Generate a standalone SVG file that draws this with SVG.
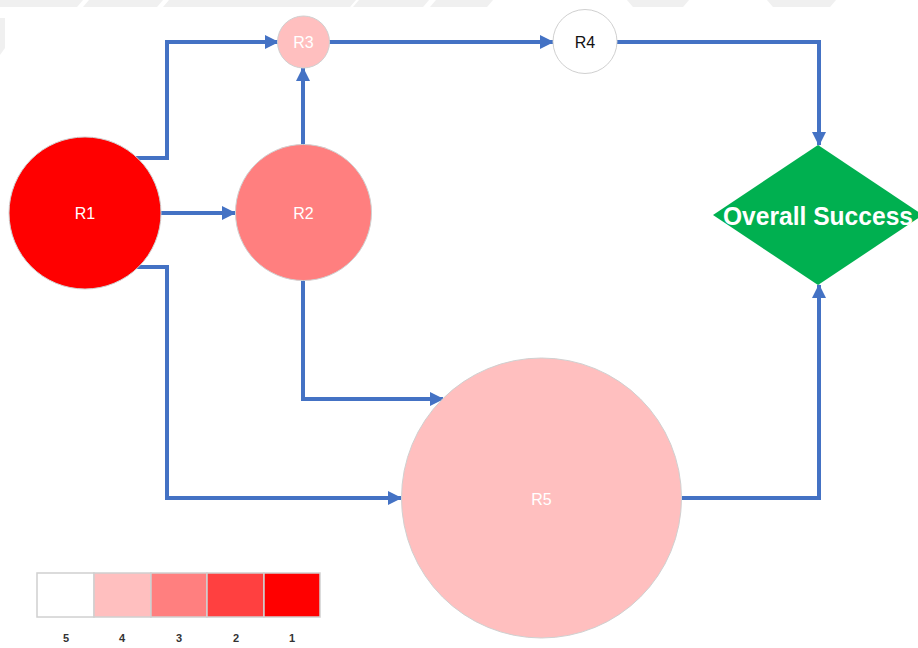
<svg xmlns="http://www.w3.org/2000/svg" width="918" height="648" viewBox="0 0 918 648">
<style>
.bg{fill:#f0f0f0}
.node{stroke:#d0d0d0;stroke-width:1}
.lbl{font-family:"Liberation Sans",Arial,sans-serif;font-size:16px;text-anchor:middle}
.conn{fill:none;stroke:#4472C4;stroke-width:4;stroke-linejoin:miter}
.leg{stroke:#d0d0d0;stroke-width:1.5}
.num{font-family:"Liberation Sans",Arial,sans-serif;font-size:11px;font-weight:bold;fill:#333;text-anchor:middle}
</style>
<defs>
<marker id="arr" markerUnits="userSpaceOnUse" markerWidth="14" markerHeight="14" viewBox="0 0 14 14" refX="13" refY="7" orient="auto">
<path d="M0,0 L14,7 L0,14 z" fill="#4472C4"/>
</marker>
</defs>
<rect width="918" height="648" fill="#fff"/>
<g id="watermark">
<polygon class="bg" points="0,0 83,0 77,7 0,7"/>
<polygon class="bg" points="89,0 163,0 157,7 83,7"/>
<polygon class="bg" points="169,0 356,0 350,7 163,7"/>
<polygon class="bg" points="359,0 429,0 423,7 353,7"/>
<polygon class="bg" points="436,0 493,0 487,7 430,7"/>
<polygon class="bg" points="627,0 689,0 683,7 633,7"/>
<polygon class="bg" points="767,0 836,0 830,7 773,7"/>
<polygon class="bg" points="0,18 5,18 5,48 0,55"/>
</g>
<g id="connectors">
<polyline class="conn" points="136,158 167,158 167,42 278,42" marker-end="url(#arr)"/>
<line class="conn" x1="161" y1="213" x2="235" y2="213" marker-end="url(#arr)"/>
<polyline class="conn" points="136,267 167,267 167,498 401,498" marker-end="url(#arr)"/>
<line class="conn" x1="303" y1="145" x2="303" y2="68" marker-end="url(#arr)"/>
<line class="conn" x1="329" y1="42" x2="553" y2="42" marker-end="url(#arr)"/>
<polyline class="conn" points="617,42 819,42 819,145" marker-end="url(#arr)"/>
<polyline class="conn" points="303,280 303,399 443,399" marker-end="url(#arr)"/>
<polyline class="conn" points="682,498 819,498 819,285" marker-end="url(#arr)"/>
</g>
<g id="R1">
<circle class="node" cx="85" cy="213" r="76" fill="#FF0000" stroke="#e0e0e0"/>
<text class="lbl" x="85" y="219" fill="#fff">R1</text>
</g>
<g id="R2">
<circle class="node" cx="303.5" cy="212.5" r="68" fill="#FF7F7F"/>
<text class="lbl" x="303.5" y="219" fill="#fff">R2</text>
</g>
<g id="R3">
<circle class="node" cx="303.5" cy="42" r="26" fill="#FFBFBF"/>
<text class="lbl" x="303.5" y="48" fill="#fff">R3</text>
</g>
<g id="R4">
<circle class="node" cx="585" cy="41.5" r="32" fill="#fff"/>
<text class="lbl" x="585" y="48" fill="#111">R4</text>
</g>
<g id="R5">
<circle class="node" cx="541.5" cy="498" r="140" fill="#FFBFBF"/>
<text class="lbl" x="541.5" y="505" fill="#fff">R5</text>
</g>
<g id="OverallSuccess">
<polygon points="818,145 923,215 818,285 713,215" fill="#00B050"/>
<text x="818" y="225" fill="#fff" font-family="Liberation Sans,Arial,sans-serif" font-size="25" font-weight="bold" text-anchor="middle" textLength="190" lengthAdjust="spacingAndGlyphs">Overall Success</text>
</g>
<g id="legend">
<rect class="leg" x="37" y="573" width="57" height="44" fill="#fff"/>
<rect class="leg" x="94" y="573" width="57" height="44" fill="#FFBFBF"/>
<rect class="leg" x="151" y="573" width="56" height="44" fill="#FF7F7F"/>
<rect class="leg" x="207" y="573" width="57" height="44" fill="#FF4040"/>
<rect class="leg" x="264" y="573" width="56" height="44" fill="#FF0000"/>
<text class="num" x="66" y="642">5</text>
<text class="num" x="122" y="642">4</text>
<text class="num" x="179" y="642">3</text>
<text class="num" x="236" y="642">2</text>
<text class="num" x="292" y="642">1</text>
</g>
</svg>
